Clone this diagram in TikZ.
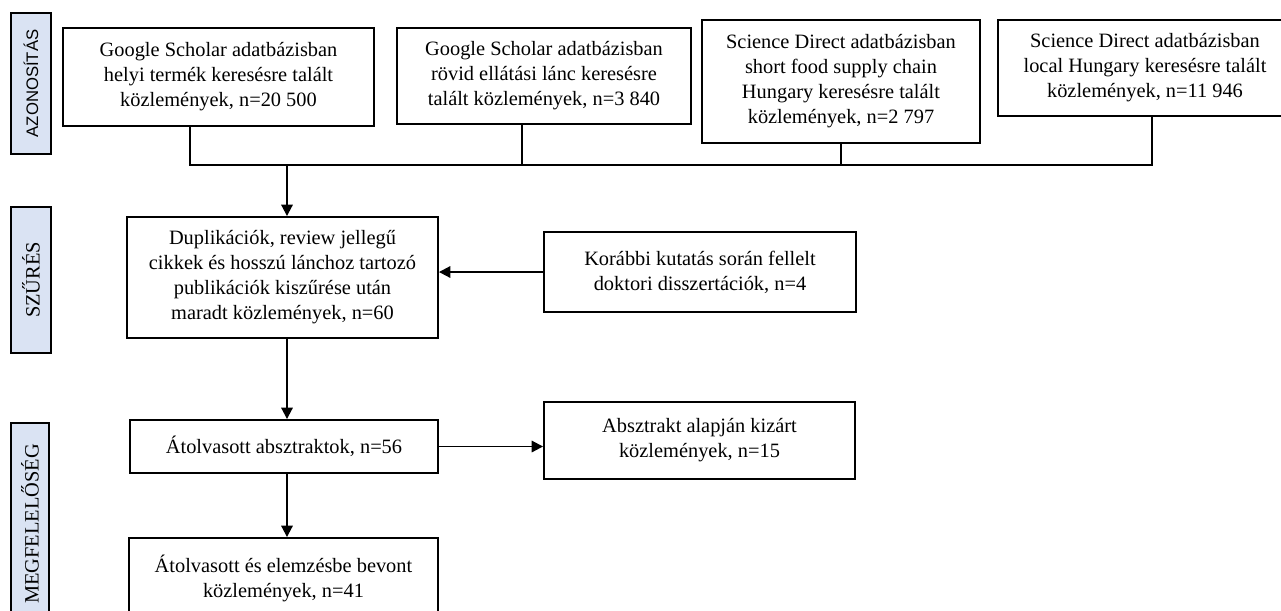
\documentclass[tikz,border=0pt]{standalone}
\usepackage{fontspec}
\setmainfont{Liberation Serif}
\newfontfamily\phasesans{Liberation Sans}
\usepackage{xcolor}
\usetikzlibrary{arrows.meta,positioning,calc}
\definecolor{phasefill}{RGB}{218,227,243}

\begin{document}
\begin{tikzpicture}[
  x=0.02cm, y=-0.02cm,
  font=\fontsize{11.6}{14.2}\selectfont,
  >={Triangle[length=6.5pt,width=6.5pt]},
  record/.style={draw, line width=1.1pt, fill=white, align=center, inner sep=2pt},
  phase/.style={draw, line width=1.1pt, fill=phasefill, rotate=90, inner sep=0pt,
                minimum height=0.8cm},
  link/.style={line width=1.1pt},
]
  % page frame (the figure is cut at the right and bottom)
  \useasboundingbox (0,0) rectangle (1281,610);
  \clip (0,0) rectangle (1281,610);

  % phases on the left
  \node[phase, minimum width=2.82cm] (azon) at (31,83.5)
       {\phasesans\fontsize{9.5}{10}\selectfont AZONOSÍTÁS};
  \node[phase, minimum width=2.92cm] (szures) at (31,280) {SZŰRÉS};
  \node[phase, minimum width=4.04cm, minimum height=0.76cm] (megfel) at (30,524)
       {MEGFELELŐSÉG};

  % searches
  \node[record, minimum width=6.22cm, minimum height=1.96cm] (gsHelyi) at (218.5,77)
       {Google Scholar adatbázisban\\helyi termék keresésre talált\\közlemények, n=20 500};
  \node[record, minimum width=5.88cm, minimum height=1.92cm] (gsRovid) at (544,76)
       {Google Scholar adatbázisban\\rövid ellátási lánc keresésre\\talált közlemények, n=3 840};
  \node[record, minimum width=5.56cm, minimum height=2.46cm] (sdShort) at (841,81.5)
       {Science Direct adatbázisban\\short food supply chain\\Hungary keresésre talált\\közlemények, n=2 797};
  \node[record, minimum width=5.88cm, minimum height=1.92cm] (sdLocal) at (1145,68)
       {Science Direct adatbázisban\\local Hungary keresésre talált\\közlemények, n=11 946};

  % screening
  \node[record, minimum width=6.22cm, minimum height=2.42cm] (szurt) at (282.5,277.5)
       {Duplikációk, review jellegű\\cikkek és hosszú lánchoz tartozó\\publikációk kiszűrése után\\maradt közlemények, n=60};
  \node[record, minimum width=6.24cm, minimum height=1.6cm] (korabbi) at (700,272)
       {Korábbi kutatás során fellelt\\doktori disszertációk, n=4};

  % eligibility
  \node[record, minimum width=6.16cm, minimum height=1.06cm] (absztr) at (284,446.5)
       {Átolvasott absztraktok, n=56};
  \node[record, minimum width=6.22cm, minimum height=1.54cm] (kizart) at (699.5,440.5)
       {Absztrakt alapján kizárt\\közlemények, n=15};
  \node[record, minimum width=6.18cm, minimum height=1.6cm] (bevont) at (283.5,578)
       {Átolvasott és elemzésbe bevont\\közlemények, n=41};

  % merging line under the searches
  \coordinate (j0) at (287,165);
  \coordinate (j1) at (190,165);
  \coordinate (j2) at (522,165);
  \coordinate (j3) at (841,165);
  \coordinate (j4) at (1152,165);
  \draw[link] (j1 |- gsHelyi.south) -- (j1) -- (j4) -- (j4 |- sdLocal.south);
  \draw[link] (j2 |- gsRovid.south) -- (j2);
  \draw[link] (j3 |- sdShort.south) -- (j3);

  % flow
  \draw[link, ->] (j0) -- (j0 |- szurt.north);
  \draw[link, ->] (korabbi.west) -- (korabbi.west -| szurt.east);
  \draw[link, ->] (j0 |- szurt.south) -- (j0 |- absztr.north);
  \draw[link, ->] (absztr.east) -- (absztr.east -| kizart.west);
  \draw[link, ->] (j0 |- absztr.south) -- (j0 |- bevont.north);
\end{tikzpicture}
\end{document}
